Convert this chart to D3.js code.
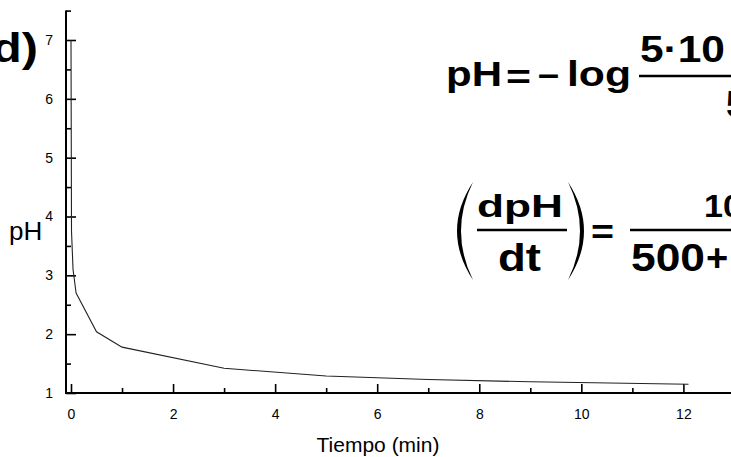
<!DOCTYPE html>
<html>
<head>
<meta charset="utf-8">
<script src="https://cdn.jsdelivr.net/npm/d3@7"></script>
<style>
  html, body { margin: 0; padding: 0; background: #fff; }
  svg { display: block; }
  text { font-family: "Liberation Sans", Arial, sans-serif; }
</style>
</head>
<body>
<svg id="chart" width="731" height="457"></svg>
<script>
// ---- data ----
const time = [0, 0.01, 0.04, 0.1, 0.5, 1, 3, 5, 7, 9, 12.1];
const pH   = [7, 3.75, 3.1, 2.70, 2.04, 1.78, 1.42, 1.29, 1.23, 1.19, 1.15];
const xMajorTicks = [0, 2, 4, 6, 8, 10, 12];
const xMinorTicks = [1, 3, 5, 7, 9, 11];
const yMajorTicks = [1, 2, 3, 4, 5, 6, 7];
const yMinorTicks = [1.5, 2.5, 3.5, 4.5, 5.5, 6.5, 7.5];
const xTitle = "Tiempo (min)";
const yTitle = "pH";
const panelLabel = "d)";

const svg = d3.select("#chart");
const x = d3.scaleLinear().domain([0, 12]).range([71, 683.4]);
const y = d3.scaleLinear().domain([1, 7]).range([393, 40]);
const axisX = 66;   // pixel position of the y-axis line
const axisY = y(1); // pixel position of the x-axis line
const fmt = d3.format("d");

// ---- x axis ----
const gx = svg.append("g").attr("transform", `translate(0,${axisY})`);
gx.call(d3.axisBottom(x).tickValues(xMajorTicks).tickFormat(fmt).tickSizeInner(-9).tickSizeOuter(0).tickPadding(16))
  .call(g => g.select(".domain").remove());
gx.append("g").call(d3.axisBottom(x).tickValues(xMinorTicks).tickSizeInner(-5).tickSizeOuter(0).tickFormat(""))
  .call(g => g.select(".domain").remove());
gx.selectAll("line").attr("stroke", "#000").attr("stroke-width", 1.6);
gx.selectAll("text").attr("font-size", 14).attr("fill", "#000")
  .attr("font-family", "Liberation Sans, Arial, sans-serif");
svg.append("line").attr("x1", axisX).attr("x2", 731).attr("y1", axisY).attr("y2", axisY)
  .attr("stroke", "#000").attr("stroke-width", 2);

// ---- y axis ----
const gy = svg.append("g").attr("transform", `translate(${axisX},0)`);
gy.call(d3.axisLeft(y).tickValues(yMajorTicks).tickFormat(fmt).tickSizeInner(-10).tickSizeOuter(0).tickPadding(13))
  .call(g => g.select(".domain").remove());
gy.append("g").call(d3.axisLeft(y).tickValues(yMinorTicks).tickSizeInner(-5).tickSizeOuter(0).tickFormat(""))
  .call(g => g.select(".domain").remove());
gy.selectAll("line").attr("stroke", "#000").attr("stroke-width", 1.6);
gy.selectAll("text").attr("font-size", 14).attr("fill", "#000")
  .attr("font-family", "Liberation Sans, Arial, sans-serif");
svg.append("line").attr("x1", axisX).attr("x2", axisX).attr("y1", axisY + 1).attr("y2", y(7.5))
  .attr("stroke", "#000").attr("stroke-width", 2);

// ---- data line ----
const line = d3.line().x(d => x(d[0])).y(d => y(d[1]));
svg.append("path").datum(time.map((t, i) => [t, pH[i]]))
  .attr("d", line).attr("fill", "none").attr("stroke", "#222").attr("stroke-width", 1.1);

// ---- titles ----
svg.append("text").attr("x", 378).attr("y", 452).attr("text-anchor", "middle")
  .attr("font-size", 21).text(xTitle);
svg.append("text").attr("x", 9).attr("y", 240).attr("font-size", 26).text(yTitle);
svg.append("text").attr("x", -8).attr("y", 62).attr("font-size", 40).attr("font-weight", "bold")
  .attr("textLength", 46).attr("lengthAdjust", "spacingAndGlyphs").text(panelLabel);

// ---- formulas ----
function t(str, xx, yy, size, len) {
  const el = svg.append("text").attr("x", xx).attr("y", yy).attr("font-size", size)
    .attr("font-weight", "bold").text(str);
  if (len) el.attr("textLength", len).attr("lengthAdjust", "spacingAndGlyphs");
  return el;
}
function bar(x1, x2, yy) {
  svg.append("line").attr("x1", x1).attr("x2", x2).attr("y1", yy).attr("y2", yy)
    .attr("stroke", "#000").attr("stroke-width", 2.6);
}
// formula 1
t("pH", 446, 86, 35, 56);
t("=", 506, 89, 35, 25);
t("\u2013", 538, 86, 35, 21);
t("log", 567, 86, 35, 64);
bar(639, 731, 76);
t("5\u00b710", 640, 62, 36, 85);
t("5", 726, 117, 36);
// formula 2
svg.append("path").attr("d", "M473,182 Q441,231 473,280 Q449,231 473,182 Z").attr("fill", "#000");
svg.append("path").attr("d", "M568,182 Q600,231 568,280 Q592,231 568,182 Z").attr("fill", "#000");
t("dpH", 477, 217, 32, 86);
bar(477, 567, 230);
t("dt", 498, 271, 38, 43);
t("=", 591, 244, 35, 23);
bar(630, 731, 230);
t("10", 704, 217, 32, 38);
t("500", 631, 271, 38, 74);
t("+", 706, 271, 38);
</script>
</body>
</html>
